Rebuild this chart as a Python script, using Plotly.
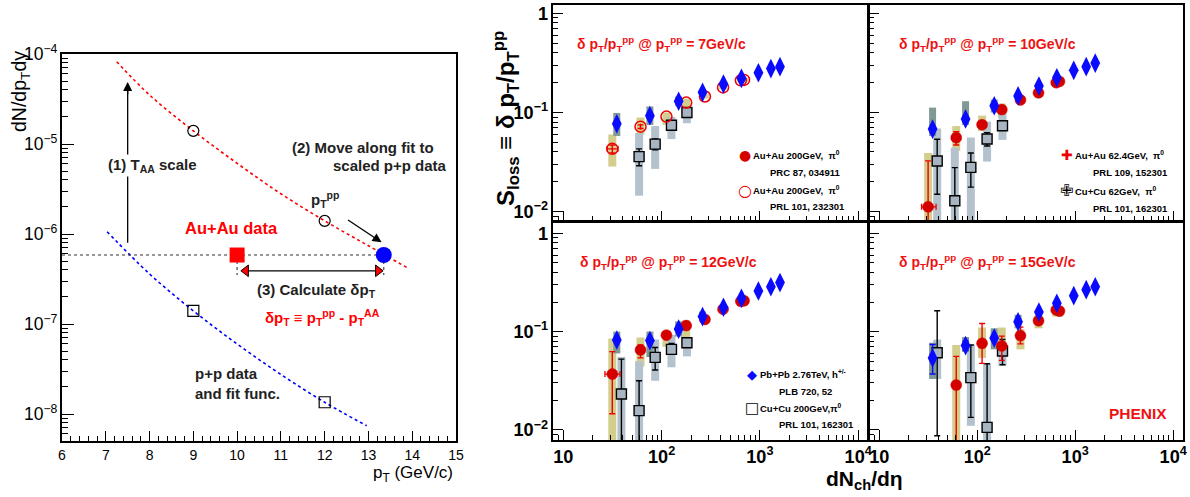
import math
import plotly.graph_objects as go

FONT = "Liberation Sans"
GLYPH = "DejaVu Sans"
W, H = 1190, 497

# ---------------- left panel data ----------------
fit_aa_pt = [7.25, 8, 9, 10, 11, 12, 13, 13.93]
fit_aa_y = [8.2e-5, 3.5e-5, 1.4e-5, 6.1e-6, 2.8e-6, 1.4e-6, 7.4e-7, 4.1e-7]
fit_pp_pt = [7.03, 8, 9, 10, 11, 12, 12.96]
fit_pp_y = [1.06e-6, 3.6e-7, 1.4e-7, 6.0e-8, 2.75e-8, 1.35e-8, 7.4e-9]
scaled_pp_pt = [9, 12]
scaled_pp_y = [1.4e-5, 1.4e-6]
pp_pt = [9, 12]
pp_y = [1.4e-7, 1.35e-8]
aa_pt = [10.0]
aa_y = [5.84e-7]
match_pt = [13.35]
match_y = [5.84e-7]
taa_arrow_pt = 7.5
taa_arrow_y = [8.0e-7, 4.9e-5]
move_arrow_pt = [12.5, 13.3]
move_arrow_y = [1.47e-6, 8.1e-7]
dpt_arrow_pt = [10.12, 13.3]
dpt_head_pt = [10.2, 13.22]
dpt_arrow_y = 3.9e-7
drop_y = 3.5e-7

# ---------------- right panels data ----------------
PB_X = [35, 76, 149, 261, 426, 649, 966, 1294, 1601]
AU_X = [31.5, 61, 112, 178, 276, 422, 640, 690]
CU_X = [39, 59, 86, 126, 181]

# pT^pp = 7 GeV/c
pb_y_7 = [0.077, 0.093, 0.13, 0.16, 0.194, 0.221, 0.252, 0.277, 0.29]
pb_syslo_7 = [0.058, 0.075, 0.116, 0.150, 0.186, 0.213, 0.243, 0.268, 0.281]
pb_syshi_7 = [0.099, 0.115, 0.145, 0.170, 0.202, 0.229, 0.261, 0.286, 0.299]
au_y_7 = [0.043, 0.072, 0.091, 0.126, 0.145, 0.179, 0.211, 0.213]
au_syslo_7 = [0.0285, 0.060, 0.075, 0.113, 0.138, 0.171, 0.203, 0.205]
au_syshi_7 = [0.060, 0.089, 0.100, 0.138, 0.153, 0.187, 0.219, 0.221]
au_statlo_7 = [0.039, 0.069, None, None, None, None, None, None]
au_stathi_7 = [0.047, 0.075, None, None, None, None, None, None]
au_xlo_7 = [28, None, None, None, None, None, None, None]
au_xhi_7 = [36, None, None, None, None, None, None, None]
cu_y_7 = [None, 0.0359, 0.048, 0.0745, 0.100]
cu_syslo_7 = [None, 0.0145, 0.027, 0.054, 0.078]
cu_syshi_7 = [None, 0.062, 0.073, 0.090, 0.110]
cu_statlo_7 = [None, 0.029, 0.042, None, None]
cu_stathi_7 = [None, 0.043, 0.054, None, None]

# pT^pp = 10 GeV/c
pb_y_10 = [0.068, 0.086, 0.117, 0.147, 0.185, 0.224, 0.266, 0.29, 0.315]
pb_syslo_10 = [0.058, 0.075, 0.100, 0.138, 0.177, 0.215, 0.256, 0.280, 0.304]
pb_syshi_10 = [0.112, 0.130, 0.135, 0.157, 0.193, 0.233, 0.276, 0.300, 0.326]
au_y_10 = [0.0112, 0.0557, 0.0753, 0.107, 0.134, 0.158, 0.200, 0.206]
au_syslo_10 = [0.005, 0.041, 0.065, 0.090, 0.127, 0.150, 0.191, 0.197]
au_syshi_10 = [0.039, 0.073, 0.093, 0.123, 0.141, 0.166, 0.209, 0.215]
au_statlo_10 = [0.005, 0.047, None, None, None, None, None, None]
au_stathi_10 = [0.0325, 0.064, None, None, None, None, None, None]
au_xlo_10 = [27, None, None, None, None, None, None, None]
au_xhi_10 = [38, None, None, None, None, None, None, None]
cu_y_10 = [0.0324, 0.0129, 0.028, 0.054, 0.0736]
cu_syslo_10 = [0.005, 0.005, 0.005, 0.032, 0.053]
cu_syshi_10 = [0.069, 0.044, 0.056, 0.081, 0.100]
cu_statlo_10 = [0.015, 0.005, 0.0177, 0.046, None]
cu_stathi_10 = [0.0537, 0.0278, 0.039, 0.0627, None]

# pT^pp = 12 GeV/c
pb_y_12 = [0.082, 0.081, 0.106, 0.142, 0.177, 0.218, 0.259, 0.286, 0.315]
pb_syslo_12 = [0.060, 0.055, 0.089, 0.131, 0.170, 0.209, 0.249, 0.275, 0.303]
pb_syshi_12 = [0.100, 0.100, 0.127, 0.160, 0.184, 0.227, 0.269, 0.297, 0.327]
au_y_12 = [0.037, 0.065, 0.092, 0.115, 0.133, 0.169, 0.203, 0.206]
au_syslo_12 = [0.005, 0.044, 0.070, 0.085, 0.125, 0.161, 0.194, 0.197]
au_syshi_12 = [0.085, 0.087, 0.100, 0.130, 0.141, 0.177, 0.212, 0.215]
au_statlo_12 = [0.0146, 0.054, None, None, None, None, None, None]
au_stathi_12 = [0.0625, 0.073, None, None, None, None, None, None]
au_xlo_12 = [26.5, None, None, None, None, None, None, None]
au_xhi_12 = [37.8, None, None, None, None, None, None, None]
cu_y_12 = [0.0232, 0.0157, 0.0547, 0.066, 0.077]
cu_syslo_12 = [0.005, 0.005, 0.0316, 0.0433, 0.056]
cu_syshi_12 = [0.055, 0.050, 0.083, 0.0926, 0.085]
cu_statlo_12 = [0.005, 0.005, 0.0406, 0.0592, None]
cu_stathi_12 = [0.0525, 0.0316, 0.069, 0.0758, None]

# pT^pp = 15 GeV/c
pb_y_15 = [0.054, 0.072, 0.086, 0.126, 0.158, 0.194, 0.232, 0.267, 0.286]
pb_syslo_15 = [0.033, 0.062, 0.066, 0.108, 0.150, 0.184, 0.221, 0.254, 0.272]
pb_syshi_15 = [0.077, 0.088, 0.108, 0.148, 0.166, 0.204, 0.243, 0.280, 0.300]
pb_statlo_15 = [0.037, 0.065, None, None, None, None, None, None, None]
pb_stathi_15 = [0.074, 0.080, None, None, None, None, None, None, None]
au_y_15 = [None, 0.0286, 0.076, 0.0714, 0.091, 0.129, 0.166, 0.162]
au_syslo_15 = [None, 0.005, 0.054, 0.061, 0.066, 0.108, 0.142, 0.142]
au_syshi_15 = [None, 0.073, 0.110, 0.110, 0.106, 0.148, 0.177, 0.177]
au_statlo_15 = [None, 0.005, 0.0475, 0.051, 0.075, None, None, None]
au_stathi_15 = [None, 0.056, 0.121, 0.090, 0.111, None, None, None]
cu_y_15 = [0.061, None, 0.034, 0.0106, 0.0635]
cu_syslo_15 = [0.033, None, 0.011, 0.005, 0.045]
cu_syshi_15 = [0.083, None, 0.074, 0.047, 0.072]
cu_statlo_15 = [0.0087, None, 0.0134, 0.005, 0.046]
cu_stathi_15 = [0.163, None, 0.073, 0.047, 0.083]

# ---------------- styles ----------------
RED_TXT = "#ee1111"
AU_RED = "#d40000"
PB_BLUE = "#0a0aff"
PB_BOX = "#7f9a95"
CU_BOX = "#b3c2cd"
AU_BOX = "#d4ce8d"
CU_FILL = "#a6b5c1"


def px(x):
    return x / W


def py(y):
    return 1 - y / H


fig = go.Figure()


def line_tr(x, y, color, width, dash="solid", shape="linear", xa="x", ya="y"):
    fig.add_trace(go.Scatter(x=x, y=y, mode="lines", line_shape=shape,
                             line=dict(color=color, dash=dash, width=width),
                             xaxis=xa, yaxis=ya, hoverinfo="skip", showlegend=False))


# ================= left panel =================
line_tr(fit_aa_pt, fit_aa_y, "#ff0000", 1.6, "dot", "spline")
line_tr(fit_pp_pt, fit_pp_y, "#0000ff", 1.6, "dot", "spline")
line_tr([6, match_pt[0]], [aa_y[0], match_y[0]], "#333", 1.2, "dot")
line_tr([aa_pt[0], aa_pt[0], None, match_pt[0], match_pt[0]],
        [aa_y[0], drop_y, None, match_y[0], drop_y], "#333", 1.1, "dot")
line_tr(dpt_arrow_pt, [dpt_arrow_y] * 2, "black", 1.3)
fig.add_trace(go.Scatter(x=dpt_head_pt, y=[dpt_arrow_y] * 2, mode="markers",
                         marker=dict(symbol=["triangle-left", "triangle-right"], size=10,
                                     color="#ff0000", line=dict(color="black", width=1)),
                         xaxis="x", yaxis="y", hoverinfo="skip", showlegend=False))
line_tr([taa_arrow_pt, taa_arrow_pt], [taa_arrow_y[0], taa_arrow_y[1] * 0.9], "black", 1.3)
fig.add_trace(go.Scatter(x=scaled_pp_pt, y=scaled_pp_y, mode="markers",
                         marker=dict(symbol="circle-open", size=11, color="black", line=dict(width=1.2)),
                         xaxis="x", yaxis="y", hoverinfo="skip", showlegend=False))
fig.add_trace(go.Scatter(x=pp_pt, y=pp_y, mode="markers",
                         marker=dict(symbol="square-open", size=11, color="black", line=dict(width=1.2)),
                         xaxis="x", yaxis="y", hoverinfo="skip", showlegend=False))
fig.add_trace(go.Scatter(x=aa_pt, y=aa_y, mode="markers",
                         marker=dict(symbol="square", size=15, color="#ff0000"),
                         xaxis="x", yaxis="y", hoverinfo="skip", showlegend=False))
fig.add_trace(go.Scatter(x=match_pt, y=match_y, mode="markers",
                         marker=dict(symbol="circle", size=16, color="#0000ff"),
                         xaxis="x", yaxis="y", hoverinfo="skip", showlegend=False))


# ================= right panels =================
def box_trace(xs, lo, hi, color, width, xa, ya):
    bx, by = [], []
    for x, l, h in zip(xs, lo, hi):
        if l is None or h is None:
            continue
        bx += [x, x, None]
        by += [l, h, None]
    line_tr(bx, by, color, width, xa=xa, ya=ya)


def err_trace(xs, ys, lo, hi, color, xa, ya, xlo=None, xhi=None):
    """Error bars only for the points that carry a visible statistical error."""
    sx, sy, p, m, xp, xm = [], [], [], [], [], []
    for i, (x, y, l, h) in enumerate(zip(xs, ys, lo, hi)):
        has_x = xlo is not None and xlo[i] is not None
        if y is None or ((l is None or h is None) and not has_x):
            continue
        sx.append(x)
        sy.append(y)
        p.append(h - y if h is not None else 0)
        m.append(y - l if l is not None else 0)
        xp.append(xhi[i] - x if has_x else 0)
        xm.append(x - xlo[i] if has_x else 0)
    if not sx:
        return
    kw = {}
    if xlo is not None and any(v > 0 for v in xp):
        kw["error_x"] = dict(type="data", array=xp, arrayminus=xm, color=color, thickness=1.3, width=3)
    fig.add_trace(go.Scatter(x=sx, y=sy, mode="markers", marker=dict(size=1, opacity=0),
                             error_y=dict(type="data", array=p, arrayminus=m, color=color,
                                          thickness=1.4, width=3),
                             xaxis=xa, yaxis=ya, hoverinfo="skip", showlegend=False, **kw))


def add_panel(xa, ya, pb, au, cu, au_open):
    pb_y, pb_lo, pb_hi, pb_slo, pb_shi = pb
    au_y, au_lo, au_hi, au_slo, au_shi, au_xlo, au_xhi = au
    cu_y, cu_lo, cu_hi, cu_slo, cu_shi = cu
    # systematic boxes
    box_trace(AU_X, au_lo, au_hi, AU_BOX, 8, xa, ya)
    box_trace(CU_X, cu_lo, cu_hi, CU_BOX, 8, xa, ya)
    box_trace(PB_X, pb_lo, pb_hi, PB_BOX, 7, xa, ya)
    # Cu+Cu squares
    err_trace(CU_X, cu_y, cu_slo, cu_shi, "black", xa, ya)
    fig.add_trace(go.Scatter(x=CU_X, y=cu_y, mode="markers",
                             marker=dict(symbol="square", size=10, color=CU_FILL,
                                         line=dict(color="black", width=1.4)),
                             xaxis=xa, yaxis=ya, hoverinfo="skip", showlegend=False))
    # Au+Au circles
    err_trace(AU_X, au_y, au_slo, au_shi, "#ee0000", xa, ya, au_xlo, au_xhi)
    if au_open:
        mk = dict(symbol="circle", size=11, color="rgba(0,0,0,0)", line=dict(color="#ee0000", width=1.5))
    else:
        mk = dict(symbol="circle", size=11, color=AU_RED, line=dict(color=AU_RED, width=0.5))
    fig.add_trace(go.Scatter(x=AU_X, y=au_y, mode="markers", marker=mk,
                             xaxis=xa, yaxis=ya, hoverinfo="skip", showlegend=False))
    # Pb+Pb diamonds
    err_trace(PB_X, pb_y, pb_slo, pb_shi, PB_BLUE, xa, ya)
    fig.add_trace(go.Scatter(x=PB_X, y=pb_y, mode="markers",
                             marker=dict(symbol="diamond-tall", size=14, color=PB_BLUE),
                             xaxis=xa, yaxis=ya, hoverinfo="skip", showlegend=False))


none9 = [None] * 9
add_panel("x2", "y2",
          (pb_y_7, pb_syslo_7, pb_syshi_7, none9, none9),
          (au_y_7, au_syslo_7, au_syshi_7, au_statlo_7, au_stathi_7, au_xlo_7, au_xhi_7),
          (cu_y_7, cu_syslo_7, cu_syshi_7, cu_statlo_7, cu_stathi_7), True)
add_panel("x3", "y3",
          (pb_y_10, pb_syslo_10, pb_syshi_10, none9, none9),
          (au_y_10, au_syslo_10, au_syshi_10, au_statlo_10, au_stathi_10, au_xlo_10, au_xhi_10),
          (cu_y_10, cu_syslo_10, cu_syshi_10, cu_statlo_10, cu_stathi_10), False)
add_panel("x4", "y4",
          (pb_y_12, pb_syslo_12, pb_syshi_12, none9, none9),
          (au_y_12, au_syslo_12, au_syshi_12, au_statlo_12, au_stathi_12, au_xlo_12, au_xhi_12),
          (cu_y_12, cu_syslo_12, cu_syshi_12, cu_statlo_12, cu_stathi_12), False)
add_panel("x5", "y5",
          (pb_y_15, pb_syslo_15, pb_syshi_15, pb_statlo_15, pb_stathi_15),
          (au_y_15, au_syslo_15, au_syshi_15, au_statlo_15, au_stathi_15, None, None),
          (cu_y_15, cu_syslo_15, cu_syshi_15, cu_statlo_15, cu_stathi_15), False)

# ================= axes =================
tickfont_l = dict(family=FONT, size=14, color="black")
tickfont_r = dict(family=FONT, size=14.5, color="black", weight="bold")

left_common = dict(showline=True, linewidth=1.6, linecolor="black", mirror=True, ticks="inside",
                   tickcolor="black", tickwidth=1, showgrid=False, zeroline=False, automargin=False)

layout_axes = dict(
    xaxis=dict(domain=[px(62), px(456)], range=[6, 15], dtick=1, tick0=0, ticklen=10,
               anchor="y", tickfont=tickfont_l,
               minor=dict(dtick=0.2, ticks="inside", ticklen=5, tickcolor="black", showgrid=False),
               **left_common),
    yaxis=dict(domain=[py(441), py(54)], type="log", range=[-8.3, -4], dtick=1, ticklen=12,
               exponentformat="power", anchor="x", tickfont=tickfont_l,
               minor=dict(ticks="inside", ticklen=6, tickcolor="black", showgrid=False),
               **left_common),
)

XR = [0.895, 4.1]
YR_TOP = [-2.094, 0.084]
YR_BOT = [-2.103, 0.115]
xdom_l = [px(553), px(868)]
xdom_r = [px(869), px(1183)]
ydom_t = [py(221), py(5)]
ydom_b = [py(440), py(222)]


def rax(dom, rng, anchor, labels):
    return dict(domain=dom, type="log", range=rng, dtick=1, tick0=0, anchor=anchor,
                showline=True, linewidth=2, linecolor="black", mirror=True, ticks="inside",
                ticklen=10, tickwidth=1, tickcolor="black", exponentformat="power",
                showticklabels=labels, tickfont=tickfont_r, showgrid=False, zeroline=False,
                automargin=False,
                minor=dict(ticks="inside", ticklen=5, tickcolor="black", showgrid=False))


layout_axes.update(
    xaxis2=rax(xdom_l, XR, "y2", False), yaxis2=rax(ydom_t, YR_TOP, "x2", True),
    xaxis3=rax(xdom_r, XR, "y3", False), yaxis3=rax(ydom_t, YR_TOP, "x3", False),
    xaxis4=rax(xdom_l, XR, "y4", True), yaxis4=rax(ydom_b, YR_BOT, "x4", True),
    xaxis5=rax(xdom_r, XR, "y5", True), yaxis5=rax(ydom_b, YR_BOT, "x5", False),
)

# ================= annotations =================
ann = []


def txt(x, y, text, size=14, color="black", bold=True, xanchor="left", yanchor="middle",
        family=FONT, angle=0, bg=None):
    d = dict(x=px(x), y=py(y), xref="paper", yref="paper", text=text, showarrow=False,
             xanchor=xanchor, yanchor=yanchor, textangle=angle,
             font=dict(family=family, size=size, color=color, weight="bold" if bold else "normal"))
    if bg:
        d["bgcolor"] = bg
    ann.append(d)


# left panel arrows
ann.append(dict(x=taa_arrow_pt, y=math.log10(taa_arrow_y[1]), ax=taa_arrow_pt,
                ay=math.log10(taa_arrow_y[1] * 0.7), xref="x", yref="y", axref="x", ayref="y",
                text="", showarrow=True, arrowhead=2, arrowsize=1.4, arrowwidth=1.3, arrowcolor="black"))
ann.append(dict(x=move_arrow_pt[1], y=math.log10(move_arrow_y[1]), ax=move_arrow_pt[0],
                ay=math.log10(move_arrow_y[0]), xref="x", yref="y", axref="x", ayref="y",
                text="", showarrow=True, arrowhead=2, arrowsize=1.4, arrowwidth=1.3, arrowcolor="black"))

# left panel texts
txt(152, 166, "(1) T<sub>AA</sub> scale", 15, "#222", xanchor="center", bg="white")
txt(290, 147, "(2) Move along fit to", 15, "#222")
txt(331, 166, "scaled p+p data", 15, "#222")
txt(325, 199, "p<sub>T</sub><sup>pp</sup>", 15, "#222", xanchor="center")
txt(231, 228, "Au+Au data", 16.5, "#ff0000", xanchor="center")
txt(255, 290, "(3) Calculate δp<sub>T</sub>", 15, "#222")
txt(263, 317, "δp<sub>T</sub> ≡ p<sub>T</sub><sup>pp</sup> - p<sub>T</sub><sup>AA</sup>", 15, "#ff0000")
txt(193, 373, "p+p data", 15, "#222")
txt(193, 393, "and fit func.", 15, "#222")
txt(20, 92, "dN/dp<sub>T</sub>dy", 19.5, "black", bold=False, xanchor="center", angle=-90)
txt(455, 474, "p<sub>T</sub> (GeV/c)", 17, "black", bold=False, xanchor="right")

# right panel titles
title_fmt = "δ p<sub>T</sub>/p<sub>T</sub><sup>pp</sup> @ p<sub>T</sub><sup>pp</sup> = {}GeV/c"
txt(575, 44, title_fmt.format(7), 14, RED_TXT)
txt(897, 44, title_fmt.format(10), 14, RED_TXT)
txt(578, 262, title_fmt.format(12), 14, RED_TXT)
txt(897, 262, title_fmt.format(15), 14, RED_TXT)
txt(1107, 413, "PHENIX", 15.5, RED_TXT)

# axis titles right
txt(506, 119, "S<sub>loss</sub> ≡ δ p<sub>T</sub>/p<sub>T</sub><sup>pp</sup>", 24, "black",
    xanchor="center", angle=-90)
txt(864, 480, "dN<sub>ch</sub>/dη", 21, "black", xanchor="center")

# legends (glyph keys + text)
LS = 9.5
txt(745, 155, "●", 14, AU_RED, bold=False, xanchor="center", family=GLYPH)
txt(751, 155, "Au+Au 200GeV,  π<sup>0</sup>", LS)
txt(768, 172, "PRC 87, 034911", LS)
txt(745, 190, "○", 16, "#ee0000", bold=True, xanchor="center", family=GLYPH)
txt(751, 190, "Au+Au 200GeV,  π<sup>0</sup>", LS)
txt(768, 207, "PRL 101, 232301", LS)

txt(1067, 155, "✚", 14, "#ee0000", bold=False, xanchor="center", family=GLYPH)
txt(1073, 155, "Au+Au 62.4GeV,  π<sup>0</sup>", LS)
txt(1091, 173, "PRL 109, 152301", LS)
txt(1066, 191, "✙", 16, "black", bold=False, xanchor="center", family=GLYPH)
txt(1073, 191, "Cu+Cu 62GeV,  π<sup>0</sup>", LS)
txt(1091, 208, "PRL 101, 162301", LS)

txt(752, 374, "◆", 13, PB_BLUE, bold=False, xanchor="center", family=GLYPH)
txt(758, 374, "Pb+Pb 2.76TeV, h<sup>+/-</sup>", LS)
txt(777, 391, "PLB 720, 52", LS)
txt(752, 408, "□", 15, "black", bold=False, xanchor="center", family=GLYPH)
txt(758, 408, "Cu+Cu 200GeV,π<sup>0</sup>", LS)
txt(777, 424, "PRL 101, 162301", LS)

fig.update_layout(width=W, height=H, margin=dict(l=0, r=0, t=0, b=0, autoexpand=False),
                  paper_bgcolor="white", plot_bgcolor="white", showlegend=False,
                  font=dict(family=FONT), annotations=ann, **layout_axes)

# the page body has a default 8px margin; remove it so the figure fills the window exactly
fig.write_html("out.html", config={"displayModeBar": False},
               post_script="document.body.style.margin='0';")
